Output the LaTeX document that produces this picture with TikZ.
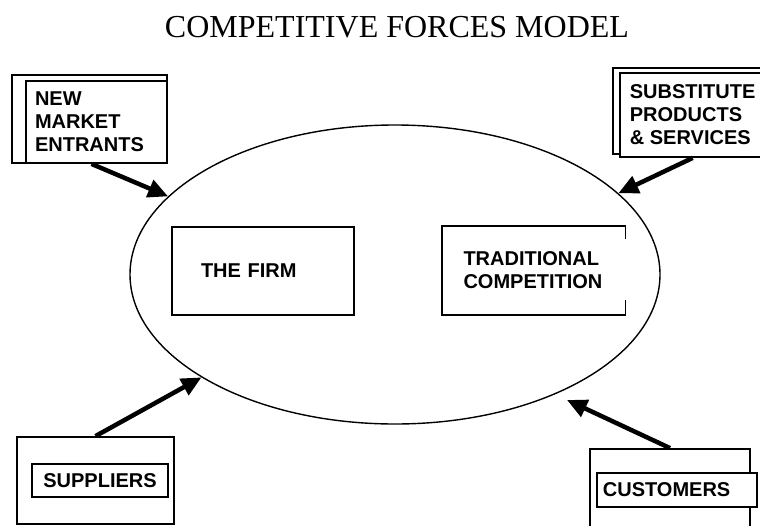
\documentclass[tikz,border=0pt]{standalone}
\usepackage{fontspec}
\setmainfont{Liberation Serif}
\setsansfont{Liberation Sans}
\usetikzlibrary{shapes.geometric,arrows.meta}

\begin{document}
\begin{tikzpicture}[x=1pt,y=-1pt,join=miter, % Competitive forces model
        box/.style={draw,line width=1.8pt,inner sep=0pt,font=\sffamily\bfseries\fontsize{20}{23}\selectfont},
        force/.style={line width=4.5pt,-{Triangle[length=20pt,width=18pt]}}]
        \clip (0,0) rectangle (760,525);
        \node[font=\fontsize{32}{36}\selectfont,anchor=base] (title) at (397,37) {COMPETITIVE FORCES MODEL};
        \node[ellipse,draw,line width=1.4pt,minimum width=530pt,minimum height=299pt,inner sep=0pt] (market) at (395,274.5) {};
        \draw[line width=1.8pt] (12,75) rectangle (167,163);
        \node[box,fill=white,minimum width=141pt,minimum height=82pt,text width=123pt,inner xsep=9pt,align=left] (entrants) at (96.5,122) {NEW\\MARKET\\ENTRANTS};
        \draw[line width=1.8pt] (613,68) rectangle (770,154);
        \node[box,fill=white,anchor=west,minimum width=140pt,minimum height=84pt,inner xsep=10pt,align=left] (subst) at (619,115) {SUBSTITUTE\\PRODUCTS\\\& SERVICES};
        \node[box,minimum width=157pt,minimum height=87pt] (suppliers) at (95.5,480.5) {};
        \node[box,minimum width=136pt,minimum height=33pt] (supname) at (100,480.5) {SUPPLIERS};
        \node[box,minimum width=160pt,minimum height=90pt] (customers) at (670,494) {};
        \node[box,fill=white,anchor=west,minimum width=160pt,minimum height=34pt,text width=148pt,inner xsep=6pt,align=left] (custname) at (596,490) {CUSTOMERS};
        \node[box,minimum width=182pt,minimum height=88pt,text width=124pt,inner xsep=29pt,align=left] (firm) at (263,271) {THE FIRM};
        \node[box,draw=none,minimum width=182pt,minimum height=87pt,text width=140pt,inner xsep=21pt,align=left] (trad) at (533.5,270.5) {TRADITIONAL\\COMPETITION};
        \draw[line width=1.8pt] ([yshift=-13pt]trad.north east) -- (trad.north east) -- (trad.north west)
                -- (trad.south west) -- (trad.south east) -- ([yshift=15pt]trad.south east);
        \coordinate (custtip) at (567,400);
        \draw[force] ([xshift=-5pt]entrants.south) -- (market.161);
        \draw[force] (subst.south) -- (market.20);
        \draw[force] (suppliers.north) -- (market.208);
        \draw[force] (customers.north) -- (custtip);
    \end{tikzpicture}
\end{document}
